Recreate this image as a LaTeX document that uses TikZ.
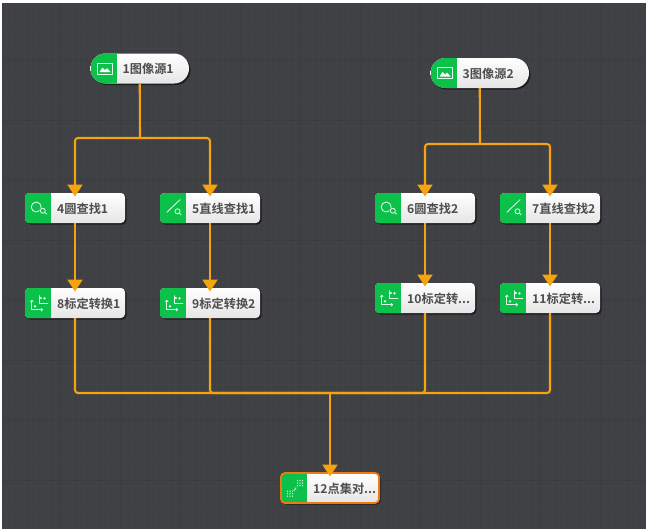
\documentclass[tikz,border=0pt]{standalone}
\usepackage{fontspec}
\setmainfont{Noto Sans CJK SC}[BoldFont={Noto Sans CJK SC Bold}]
\usetikzlibrary{arrows.meta}
\definecolor{bgdark}{HTML}{3F4044}
\definecolor{bggrid}{HTML}{424347}
\definecolor{bgline}{HTML}{3B3C40}
\definecolor{wireorange}{HTML}{F5A30F}
\definecolor{okgreen}{HTML}{0CC14A}
\definecolor{labelgrey}{HTML}{4E4E51}
\definecolor{selorange}{HTML}{F07A10}
\tikzset{
  x=1pt,y=-1pt,
  wire/.style={draw=wireorange,line width=2.1pt,rounded corners=3pt},
  wirearrow/.style={wire,-{Triangle[width=15pt,length=12pt]},shorten >=-3.5pt},
  cardbody/.style={anchor=north west,inner sep=0pt,outer sep=0pt,minimum height=30pt,rounded corners=4pt,top color=white,bottom color=white!90!black},
  pillbody/.style={cardbody,rounded corners=15pt},
  cardtext/.style={anchor=west,inner sep=0pt,text=labelgrey,font=\fontsize{12.2pt}{14pt}\selectfont\bfseries},
  ico/.style={draw=white!88!okgreen,line width=0.85pt,line cap=round,line join=round},
}
% #1 name, #2 x, #3 y, #4 width, #5 text x offset, #6 label, #7 icon, #8 body style, #9 radius
\newcommand{\flowcard}[9]{%
  \fill[black,opacity=.55,rounded corners=#9pt] (#2+1.5,#3+1.5) rectangle ++(#4,30);
  \node[#8,minimum width=#4pt] (#1) at (#2,#3) {};
  \begin{scope}
    \clip[rounded corners=#9pt] (#2,#3) rectangle ++(#4,30);
    \fill[okgreen] (#2,#3) rectangle ++(26,30);
  \end{scope}
  \begin{scope}[shift={(#2+13,#3+15)}]#7\end{scope}
  \node[cardtext] (#1t) at (#2+#5,#3+15.5) {#6};
}
\newcommand{\icoimage}{%
  \draw[ico] (-6,-5.5) rectangle (9,5.5);
  \fill[white] (-4,3.5) -- (-1,-1) -- (1.5,1.5) -- (3.5,-0.5) -- (7,3.5) -- cycle;
}
\newcommand{\icocircle}{%
  \draw[ico] (-1.8,-1) circle (5);
  \fill[okgreen] (4.8,2.7) circle (3.5);
  \draw[ico] (4.8,2.7) circle (2.5);
  \draw[ico] (6.6,4.5) -- (8.8,6);
}
\newcommand{\icoline}{%
  \draw[ico] (-6.2,4.3) -- (7,-8.3);
  \fill[okgreen] (4.5,3.3) circle (3.3);
  \draw[ico] (4.5,3.3) circle (2.5);
  \draw[ico] (6.3,5.1) -- (8,6.7);
}
\newcommand{\icoaxes}{%
  \draw[ico] (-6.2,-2.7) -- (-6.2,6.7) -- (4.5,6.7);
  \draw[ico] (-7.5,-1.4) -- (-6.2,-2.7) -- (-4.9,-1.4);
  \draw[ico] (3.2,5.4) -- (4.5,6.7) -- (3.2,8);
  \draw[ico] (1.5,-7.3) -- (1.5,0.7) -- (9.8,0.7);
  \fill[white] (-3,3.3) circle (1.3) (2.8,-5) circle (1.2) (6.5,-4.7) circle (1.2);
}
\newcommand{\icopoints}{%
  \foreach \cx/\cy in {6/-5,-4/5.7}{
    \foreach \dx in {-2.5,0,2.5}{\foreach \dy in {-2.5,0,2.5}{
      \fill[white!80!okgreen] (\cx+\dx,\cy+\dy) circle (.75);}}}
  \draw[draw=white!75!okgreen,line width=1pt] (-.2,2.7) -- (2.2,-.4);
}
\begin{document}
\begin{tikzpicture}
\useasboundingbox (0,0) rectangle (650,531);
\fill[white] (0,0) rectangle (650,531);
\fill[bgdark] (2,3) rectangle (646,528);
\begin{scope}
  \clip (2,3) rectangle (646,528);
  \foreach \gx in {6,12,...,646}{\draw[bggrid,line width=.3pt] (\gx,3) -- (\gx,528);}
  \foreach \gy in {6,12,...,528}{\draw[bggrid,line width=.3pt] (2,\gy) -- (646,\gy);}
  \foreach \gx in {60,120,...,646}{\draw[bgline,line width=.5pt] (\gx,3) -- (\gx,528);}
  \foreach \gy in {60,120,...,528}{\draw[bgline,line width=.5pt] (2,\gy) -- (646,\gy);}
\end{scope}

\coordinate (j1) at (140,138);
\coordinate (j3) at (480,144);
\coordinate (jm) at (330,393);

\flowcard{n1}{90.5}{53.5}{98.5}{32}{1图像源1}{\icoimage}{pillbody}{15}
\flowcard{n3}{430.5}{58}{98.5}{32}{3图像源2}{\icoimage}{pillbody}{15}
\flowcard{n4}{25}{193}{100}{32}{4圆查找1}{\icocircle}{cardbody}{4}
\flowcard{n5}{160}{193}{100}{32}{5直线查找1}{\icoline}{cardbody}{4}
\flowcard{n6}{375}{193}{100}{32}{6圆查找2}{\icocircle}{cardbody}{4}
\flowcard{n7}{500}{193}{100}{32}{7直线查找2}{\icoline}{cardbody}{4}
\flowcard{n8}{25}{288}{100}{32}{8标定转换1}{\icoaxes}{cardbody}{4}
\flowcard{n9}{160}{288}{100}{32}{9标定转换2}{\icoaxes}{cardbody}{4}
\flowcard{n10}{375}{283}{100}{32}{10标定转...}{\icoaxes}{cardbody}{4}
\flowcard{n11}{500}{283}{100}{32}{11标定转...}{\icoaxes}{cardbody}{4}
\flowcard{n12}{281}{473}{98}{32}{12点集对...}{\icopoints}{cardbody}{4}
\draw[selorange,line width=1.8pt,rounded corners=4pt] (281,473) rectangle ++(98,30);

\draw[wire] (n1.south) -- (j1);
\draw[wire] (n3.south) -- (j3);
\draw[wirearrow] (j1) -| (n4.north);
\draw[wirearrow] (j1) -| (n5.north);
\draw[wirearrow] (j3) -| (n6.north);
\draw[wirearrow] (j3) -| (n7.north);
\draw[wirearrow] (n4.south) -- (n8.north);
\draw[wirearrow] (n5.south) -- (n9.north);
\draw[wirearrow] (n6.south) -- (n10.north);
\draw[wirearrow] (n7.south) -- (n11.north);
\draw[wire] (n8.south) |- (jm);
\draw[wire] (n9.south) |- (jm);
\draw[wire] (n10.south) |- (jm);
\draw[wire] (n11.south) |- (jm);
\draw[wirearrow] (jm) -- (n12.north);
\end{tikzpicture}
\end{document}
